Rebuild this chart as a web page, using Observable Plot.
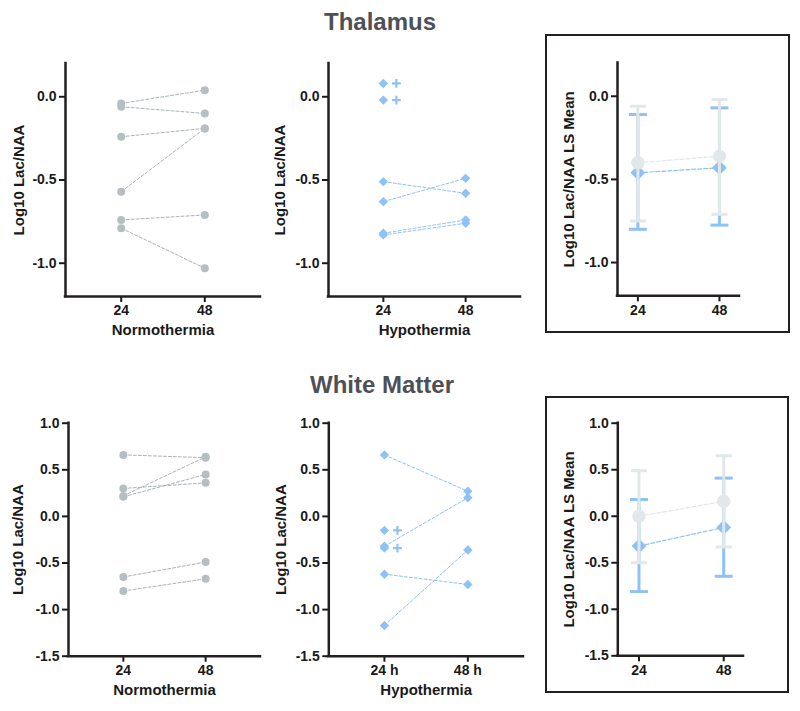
<!DOCTYPE html>
<html><head><meta charset="utf-8">
<script src="https://cdn.jsdelivr.net/npm/d3@7"></script>
<script src="https://cdn.jsdelivr.net/npm/@observablehq/plot@0.6"></script>
<style>
body{margin:0;background:#fff;width:800px;height:711px;position:relative;overflow:hidden;font-family:"Liberation Sans",Arial,sans-serif;}
.panel{position:absolute;}
.panel svg{overflow:visible;}
.title{position:absolute;font-size:24px;font-weight:bold;line-height:24px;color:#4d5057;text-align:center;width:200px;white-space:nowrap;}
.box{position:absolute;border:2px solid #231f20;box-sizing:border-box;pointer-events:none;}
.panel g.tick line, .panel g[aria-label$="axis tick"] path{stroke-width:2px;}
</style></head><body>
<div class="title" style="left:280px;top:10px">Thalamus</div>
<div class="title" style="left:282px;top:373px">White Matter</div>
<div class="panel" id="tl" style="left:0px;top:40px"></div>
<div class="panel" id="tm" style="left:265px;top:40px"></div>
<div class="panel" id="tr" style="left:547px;top:40px"></div>
<div class="panel" id="bl" style="left:0px;top:400px"></div>
<div class="panel" id="bm" style="left:265px;top:400px"></div>
<div class="panel" id="br" style="left:547px;top:400px"></div>
<div class="box" style="left:545px;top:34px;width:245px;height:299px"></div>
<div class="box" style="left:545px;top:396px;width:244px;height:297px"></div>
<script>
// ---- data ----
const times = [24, 48];

// Thalamus, individual subjects (null = no 48 h scan)
const thNorm24 = [-0.04, -0.06, -0.24, -0.57, -0.74, -0.79];
const thNorm48 = [0.04, -0.10, -0.19, -0.19, -0.71, -1.03];
const thHypo24 = [-0.51, -0.63, -0.82, -0.83, 0.08, -0.02];
const thHypo48 = [-0.58, -0.49, -0.74, -0.76, null, null];

// White matter, individual subjects
const wmNorm24 = [0.66, 0.30, 0.22, 0.21, -0.65, -0.80];
const wmNorm48 = [0.63, 0.36, 0.64, 0.45, -0.49, -0.67];
const wmHypo24 = [0.66, -0.32, -0.62, -1.17, -0.15, -0.34];
const wmHypo48 = [0.27, 0.20, -0.73, -0.36, null, null];

// LS means with 95% CI
const thMeanNorm = [-0.40, -0.36], thLoNorm = [-0.75, -0.71], thHiNorm = [-0.06, -0.02];
const thMeanHypo = [-0.46, -0.43], thLoHypo = [-0.80, -0.775], thHiHypo = [-0.11, -0.07];
const wmMeanNorm = [0.00, 0.16], wmLoNorm = [-0.50, -0.33], wmHiNorm = [0.49, 0.65];
const wmMeanHypo = [-0.32, -0.12], wmLoHypo = [-0.81, -0.645], wmHiHypo = [0.18, 0.41];

const thYTicks = [-1.0, -0.5, 0.0];
const wmYTicks = [-1.5, -1.0, -0.5, 0.0, 0.5, 1.0];
const thYDomain = [-1.2, 0.2];
const wmYDomain = [-1.5, 1.0];

// ---- styles ----
const axisColor = "#231f20";
const gray = "#b5bfc2", grayLine = "#aab3b7";
const blue = "#8ec2f5", blueLine = "#8ec2f5";
const lightGray = "#e2e7ea", lightGrayLine = "#e3e7e9";

const diamond = {draw(ctx, size) { const r = Math.sqrt(size / Math.PI); ctx.moveTo(0, -r); ctx.lineTo(r, 0); ctx.lineTo(0, r); ctx.lineTo(-r, 0); ctx.closePath(); }};
const plusSym = {draw(ctx, size) { const r = Math.sqrt(size / Math.PI); ctx.moveTo(-r, 0); ctx.lineTo(r, 0); ctx.moveTo(0, -r); ctx.lineTo(0, r); }};
const capSym = {draw(ctx, size) { const r = Math.sqrt(size / Math.PI); ctx.moveTo(-r, 0); ctx.lineTo(r, 0); }};

function rowsOf(v24, v48) {
  const rows = [];
  v24.forEach((v, i) => {
    rows.push({id: i, time: 24, value: v, paired: v48[i] != null});
    if (v48[i] != null) rows.push({id: i, time: 48, value: v48[i], paired: true});
  });
  return rows;
}

function subjectMarks(v24, v48, kind) {
  const rows = rowsOf(v24, v48);
  const color = kind === "norm" ? gray : blue;
  const lc = kind === "norm" ? grayLine : blueLine;
  const marks = [
    Plot.line(rows, {x: "time", y: "value", z: "id", stroke: lc, strokeWidth: 1, strokeDasharray: "3,2"})
  ];
  if (kind === "norm") {
    marks.push(Plot.dot(rows, {x: "time", y: "value", r: 4, fill: color}));
  } else {
    marks.push(Plot.dot(rows, {x: "time", y: "value", symbol: diamond, r: 4.7, fill: color, stroke: "none"}));
    marks.push(Plot.dot(rows.filter(d => !d.paired), {x: "time", y: "value", symbol: plusSym, r: 4.4, fill: "none", stroke: color, strokeWidth: 2.2, dx: 13}));
  }
  return marks;
}

function meanMarks(mean, lo, hi, color, lineColor, symbol, r, capR) {
  const rows = times.map((t, i) => ({time: t, mean: mean[i], lo: lo[i], hi: hi[i]}));
  return [
    Plot.ruleX(rows, {x: "time", y1: "lo", y2: "hi", stroke: color, strokeWidth: 3}),
    Plot.dot(rows, {x: "time", y: "lo", symbol: capSym, r: capR, fill: "none", stroke: color, strokeWidth: 3}),
    Plot.dot(rows, {x: "time", y: "hi", symbol: capSym, r: capR, fill: "none", stroke: color, strokeWidth: 3}),
    Plot.line(rows, {x: "time", y: "mean", stroke: lineColor, strokeWidth: 1.2, strokeDasharray: "4,2"}),
    Plot.dot(rows, {x: "time", y: "mean", symbol, r, fill: color, stroke: "none"})
  ];
}

function panel(id, o) {
  const marks = [
    Plot.ruleX([o.xDomain[0]], {stroke: axisColor, strokeWidth: 2.5, strokeLinecap: "square"}),
    Plot.ruleY([o.yDomain[0]], {stroke: axisColor, strokeWidth: 2.5, strokeLinecap: "square"}),
    ...o.marks,
    Plot.text([o.yLabel], {frameAnchor: "left", textAnchor: "middle", lineAnchor: "middle", dx: o.yLabelDx, rotate: -90, fill: "#1a1a1a", fontSize: 15, fontWeight: "bold"})
  ];
  if (o.xLabel) marks.push(Plot.text([o.xLabel], {frameAnchor: "bottom", textAnchor: "middle", lineAnchor: "middle", dy: 34, fill: "#1a1a1a", fontSize: 15, fontWeight: "bold"}));
  const chart = Plot.plot({
    width: o.W, height: o.H,
    marginLeft: o.ML, marginTop: o.MT, marginRight: o.MR, marginBottom: o.MB,
    x: {type: "linear", domain: o.xDomain, ticks: times, tickFormat: o.xFormat || (d => String(d)), tickSize: 6, tickPadding: 3, label: null},
    y: {type: "linear", domain: o.yDomain, ticks: o.yTicks, tickFormat: d => d.toFixed(1), tickSize: 6, tickPadding: 3, label: null},
    style: {fontFamily: "'Liberation Sans', Arial, sans-serif", fontSize: "14px", fontWeight: "bold", color: "#1a1a1a", background: "transparent", overflow: "visible"},
    marks
  });
  document.getElementById(id).appendChild(chart);
}

const leftX = [8, 64];

panel("tl", {W: 265, H: 300, ML: 65, MT: 23, MR: 5, MB: 44, xDomain: leftX, yDomain: thYDomain, yTicks: thYTicks,
  xLabel: "Normothermia", yLabel: "Log10 Lac/NAA", yLabelDx: -46, marks: subjectMarks(thNorm24, thNorm48, "norm")});
panel("tm", {W: 265, H: 300, ML: 63, MT: 23, MR: 10, MB: 44, xDomain: leftX, yDomain: thYDomain, yTicks: thYTicks,
  xLabel: "Hypothermia", yLabel: "Log10 Lac/NAA", yLabelDx: -48.5, marks: subjectMarks(thHypo24, thHypo48, "hypo")});
panel("tr", {W: 240, H: 280, ML: 70, MT: 22.5, MR: 48, MB: 24.7, xDomain: [18, 53.9], yDomain: thYDomain, yTicks: thYTicks,
  xLabel: null, yLabel: "Log10 Lac/NAA LS Mean", yLabelDx: -48, marks: [
    ...meanMarks(thMeanHypo, thLoHypo, thHiHypo, blue, blueLine, diamond, 7.4, 9),
    ...meanMarks(thMeanNorm, thLoNorm, thHiNorm, lightGray, lightGrayLine, "circle", 6.7, 8)
  ]});
panel("bl", {W: 265, H: 311, ML: 68, MT: 22.7, MR: 5, MB: 55.3, xDomain: leftX, yDomain: wmYDomain, yTicks: wmYTicks,
  xLabel: "Normothermia", yLabel: "Log10 Lac/NAA", yLabelDx: -50.5, marks: subjectMarks(wmNorm24, wmNorm48, "norm")});
panel("bm", {W: 265, H: 311, ML: 63.3, MT: 22.7, MR: 7, MB: 55.3, xDomain: leftX, yDomain: wmYDomain, yTicks: wmYTicks,
  xFormat: d => d + " h", xLabel: "Hypothermia", yLabel: "Log10 Lac/NAA", yLabelDx: -47.3, marks: subjectMarks(wmHypo24, wmHypo48, "hypo")});
panel("br", {W: 240, H: 290, ML: 70.3, MT: 22.7, MR: 44, MB: 34.7, xDomain: [18, 53.6], yDomain: wmYDomain, yTicks: wmYTicks,
  xLabel: null, yLabel: "Log10 Lac/NAA LS Mean", yLabelDx: -48.3, marks: [
    ...meanMarks(wmMeanHypo, wmLoHypo, wmHiHypo, blue, blueLine, diamond, 7.4, 9),
    ...meanMarks(wmMeanNorm, wmLoNorm, wmHiNorm, lightGray, lightGrayLine, "circle", 6.7, 8)
  ]});
</script>
</body></html>
